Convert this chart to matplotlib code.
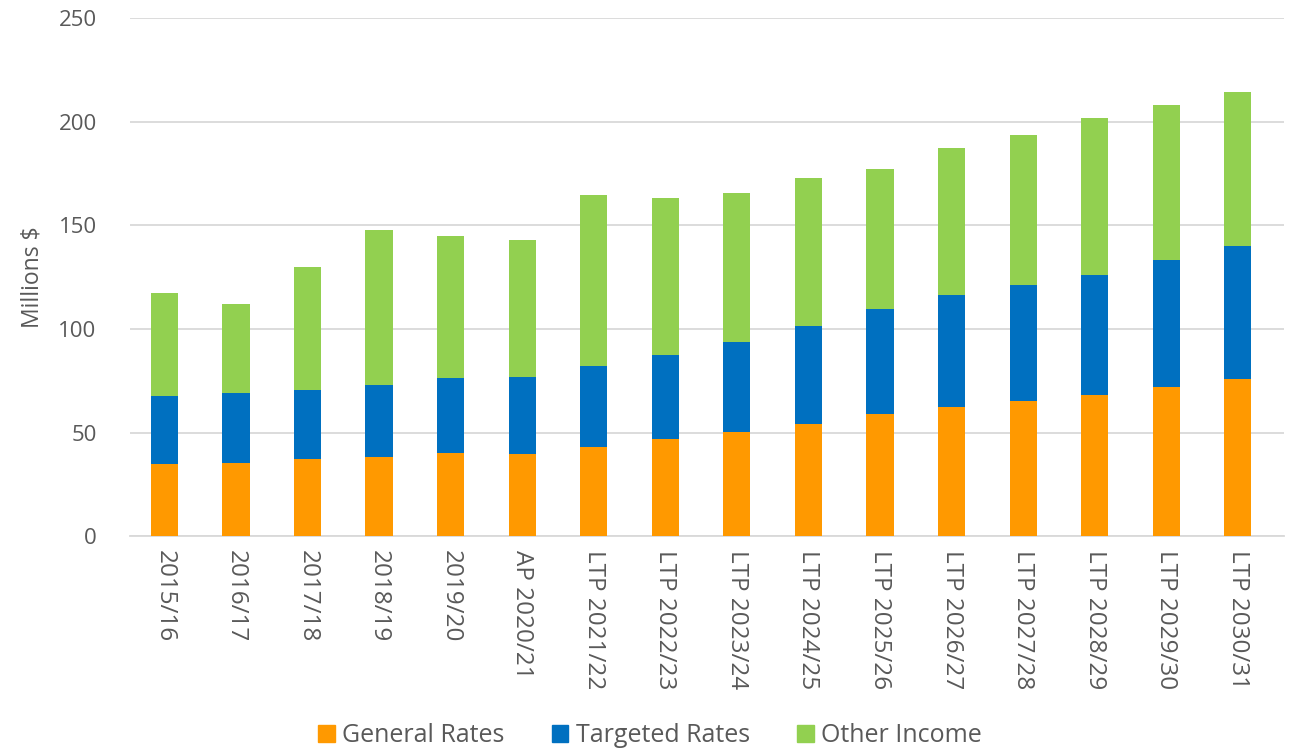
import numpy as np
import matplotlib.pyplot as plt
from matplotlib.patches import Patch

years = ['2015/16', '2016/17', '2017/18', '2018/19', '2019/20', 'AP 2020/21',
         'LTP 2021/22', 'LTP 2022/23', 'LTP 2023/24', 'LTP 2024/25', 'LTP 2025/26',
         'LTP 2026/27', 'LTP 2027/28', 'LTP 2028/29', 'LTP 2029/30', 'LTP 2030/31']
general_rates = [34.8, 35.4, 37.1, 38.0, 40.0, 39.5, 43.2, 46.9, 50.4, 54.0, 59.0,
                 62.5, 65.4, 68.2, 72.2, 75.9]
targeted_rates = [32.9, 33.6, 33.5, 35.0, 36.2, 37.5, 38.7, 40.6, 43.1, 47.2, 50.8,
                  53.7, 55.6, 58.0, 61.3, 64.3]
other_income = [49.7, 43.0, 59.4, 74.9, 68.8, 66.1, 82.7, 75.5, 72.2, 71.8, 67.5,
                70.9, 72.6, 75.4, 74.4, 74.2]

plt.rcParams['font.family'] = ['Open Sans', 'DejaVu Sans']
grey = '#595959'
c_gen, c_tar, c_oth = '#FF9900', '#0070C0', '#92D050'

fig = plt.figure(figsize=(13, 7.5), dpi=100)
ax = fig.add_axes([0.1, 0.285, 0.888, 0.691])

x = np.arange(len(years))
g = np.array(general_rates)
t = np.array(targeted_rates)
o = np.array(other_income)
w = 0.38
ax.bar(x, g, w, color=c_gen, label='General Rates', zorder=3)
ax.bar(x, t, w, bottom=g, color=c_tar, label='Targeted Rates', zorder=3)
ax.bar(x, o, w, bottom=g + t, color=c_oth, label='Other Income', zorder=3)

ax.set_ylim(0, 250)
ax.set_xlim(-0.48, len(years) - 0.35)
ax.set_yticks(range(0, 251, 50))
ax.yaxis.grid(True, color='#D9D9D9', linewidth=1.3, zorder=0)
ax.set_axisbelow(True)
for s in ['top', 'right', 'left']:
    ax.spines[s].set_visible(False)
ax.spines['bottom'].set_color('#D9D9D9')
ax.spines['bottom'].set_linewidth(1.3)
ax.tick_params(axis='both', length=0, colors=grey)
ax.tick_params(axis='y', pad=24, labelsize=16)
ax.set_xticks(x)
ax.set_xticklabels(years, rotation=-90, ha='center', va='top')
ax.tick_params(axis='x', pad=10, labelsize=17.5)
ax.set_ylabel('Millions $', fontsize=16.5, color=grey, labelpad=10)

handles = [Patch(color=c_gen), Patch(color=c_tar), Patch(color=c_oth)]
fig.legend(handles, ['General Rates', 'Targeted Rates', 'Other Income'],
           loc='lower center', bbox_to_anchor=(0.5, -0.028), ncol=3, frameon=False,
           fontsize=18, labelcolor=grey, handlelength=0.65, handleheight=0.65,
           handletextpad=0.3, columnspacing=1.9)

fig.savefig('out.png', dpi=100)
